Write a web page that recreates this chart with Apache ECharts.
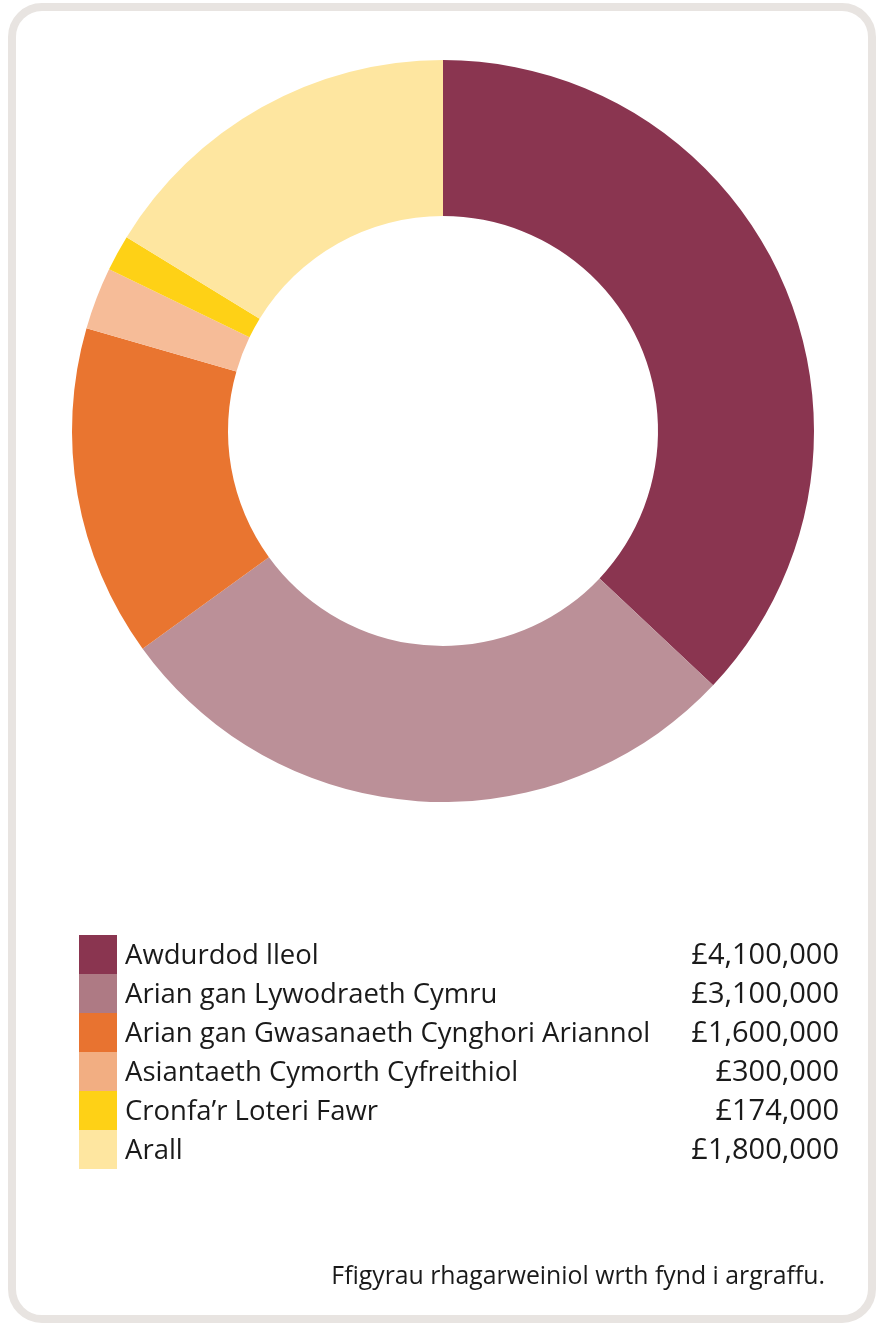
<!DOCTYPE html>
<html><head><meta charset="utf-8">
<script src="https://cdn.jsdelivr.net/npm/echarts@6/dist/echarts.min.js"></script>
<style>html,body{margin:0;padding:0;background:#fff}#c{width:880px;height:1327px}</style>
</head><body><div id="c"></div>
<script>
const categories = ["Awdurdod lleol","Arian gan Lywodraeth Cymru","Arian gan Gwasanaeth Cynghori Ariannol","Asiantaeth Cymorth Cyfreithiol","Cronfa’r Loteri Fawr","Arall"];
const values = [4100000, 3100000, 1600000, 300000, 174000, 1800000];
const valueLabels = ["£4,100,000","£3,100,000","£1,600,000","£300,000","£174,000","£1,800,000"];
const sliceColors = ["#8a3550","#bb9098","#e97530","#f6bc98","#fed116","#fee6a0"];
const swatchColors = ["#8a3550","#ae7a84","#e87330","#f2ae82","#fed116","#fee6a0"];
const footnote = "Ffigyrau rhagarweiniol wrth fynd i argraffu.";

const font = "'Open Sans', 'Noto Sans', sans-serif";
const chart = echarts.init(document.getElementById('c'), null, {renderer:'canvas'});
chart.setOption({
  animation:false,
  backgroundColor:'#fff',
  graphic:[
    {type:'rect', shape:{x:12,y:7,width:860,height:1312,r:30}, style:{fill:'#fff',stroke:'#e8e4e1',lineWidth:8}, z:-10},
    {type:'text', right:55, top:1264, style:{text:footnote, font:"24.8px "+font, fill:'#1a1a1a'}}
  ],
  legend:{
    orient:'vertical', left:79, top:935, padding:0, itemWidth:38, itemHeight:39, itemGap:0, icon:'rect',
    selectedMode:false,
    data: categories.map((c,i)=>({name:c, itemStyle:{color:swatchColors[i]}})),
    formatter: function(name){ const i = categories.indexOf(name); return '{n|'+name+'}{v|'+valueLabels[i]+'}'; },
    textStyle:{ fontFamily:font, fontSize:27.5, color:'#1a1a1a',
      rich:{ n:{width:531, padding:[3,0,0,3], fontSize:27.5, fontFamily:font, color:'#1a1a1a'}, v:{width:183, padding:[3,0,0,0], align:'right', fontSize:29, fontFamily:font, color:'#1a1a1a'} } }
  },
  series:[{
    type:'pie', center:[443,431], radius:[215,371], startAngle:90, clockwise:true,
    label:{show:false}, labelLine:{show:false}, emphasis:{disabled:true},
    itemStyle:{borderWidth:0},
    data: categories.map((c,i)=>({name:c, value:values[i], itemStyle:{color:sliceColors[i]}}))
  }]
});
</script></body></html>
